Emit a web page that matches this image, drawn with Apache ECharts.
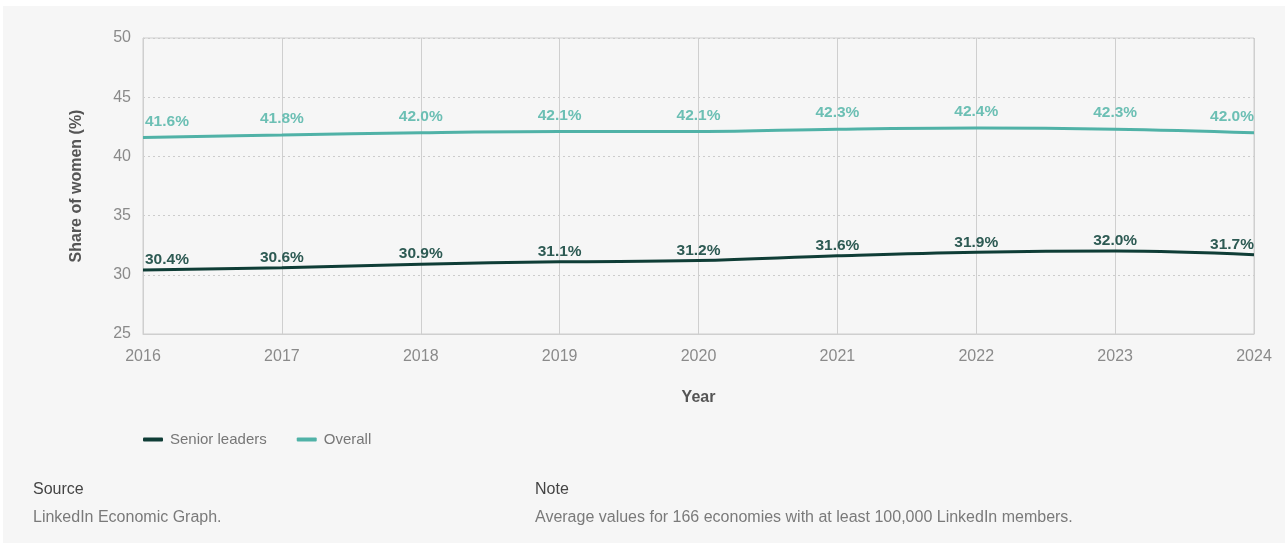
<!DOCTYPE html>
<html>
<head>
<meta charset="utf-8">
<script src="https://cdn.jsdelivr.net/npm/echarts@6/dist/echarts.min.js"></script>
<style>
  html, body { margin: 0; padding: 0; background: #ffffff; }
  #wrap { position: absolute; left: 3px; top: 6px; right: 3px; bottom: 0; background: #f6f6f6; }
  #chart { position: absolute; left: -3px; top: -6px; width: 1288px; height: 543px; }
</style>
</head>
<body>
<div id="wrap"><div id="chart"></div></div>
<script>
// Share of women, by year
const years = ['2016', '2017', '2018', '2019', '2020', '2021', '2022', '2023', '2024'];
const seniorLeaders = [30.4, 30.6, 30.9, 31.1, 31.2, 31.6, 31.9, 32.0, 31.7];
const overall = [41.6, 41.8, 42.0, 42.1, 42.1, 42.3, 42.4, 42.3, 42.0];
const yTicks = { min: 25, max: 50, interval: 5 };

const FONT = '"Liberation Sans", Arial, Helvetica, sans-serif';
const SENIOR_COLOR = '#0f3d36';
const SENIOR_LABEL = '#2d5a53';
const OVERALL_COLOR = '#50b2a7';
const OVERALL_LABEL = '#6cbfb4';

// first label hugs the left edge, last the right edge, others centred
function pointsWithLabels(values) {
  return values.map((v, i) => ({
    value: v,
    label: i === 0
      ? { align: 'left', offset: [2, 0] }
      : { align: i === values.length - 1 ? 'right' : 'center' }
  }));
}

function lineSeries(name, values, lineColor, labelColor, distance) {
  return {
    name,
    type: 'line',
    smooth: 0.4,
    symbol: 'circle',
    symbolSize: 2,
    showSymbol: true,
    data: pointsWithLabels(values),
    lineStyle: { color: lineColor, width: 3 },
    // points are invisible; only their value labels are drawn
    itemStyle: { color: 'rgba(0,0,0,0)', borderWidth: 0 },
    label: {
      show: true, position: 'top', distance,
      color: labelColor, fontSize: 15.5, fontWeight: 'bold', fontFamily: FONT,
      formatter: p => p.value.toFixed(1) + '%'
    },
    emphasis: { disabled: true }
  };
}

const chart = echarts.init(document.getElementById('chart'), null, { renderer: 'canvas' });

chart.setOption({
  backgroundColor: 'transparent',
  animation: false,
  textStyle: { fontFamily: FONT },
  grid: {
    left: 143, right: 34, top: 38, bottom: 209,
    show: true, borderColor: '#cfcfcf', borderWidth: 1, backgroundColor: 'transparent'
  },
  legend: {
    left: 138, top: 427,
    itemWidth: 20, itemHeight: 4, itemGap: 30,
    icon: 'roundRect',
    textStyle: { color: '#777', fontSize: 15, fontFamily: FONT, padding: [0, 0, 0, 2] },
    data: [
      { name: 'Senior leaders', itemStyle: { color: SENIOR_COLOR } },
      { name: 'Overall', itemStyle: { color: OVERALL_COLOR } }
    ]
  },
  xAxis: {
    type: 'category',
    data: years,
    boundaryGap: false,
    name: 'Year',
    nameLocation: 'middle',
    nameGap: 56,
    nameTextStyle: { color: '#555', fontSize: 16, fontWeight: 'bold', fontFamily: FONT },
    axisLine: { show: true, lineStyle: { color: '#cfcfcf', width: 1 } },
    axisTick: { show: false },
    axisLabel: { color: '#8a8a8a', fontSize: 16, margin: 15, fontFamily: FONT },
    splitLine: { show: true, lineStyle: { color: '#cfcfcf', width: 1 } }
  },
  yAxis: {
    type: 'value',
    min: yTicks.min, max: yTicks.max, interval: yTicks.interval,
    name: 'Share of women (%)',
    nameLocation: 'middle',
    nameGap: 58,
    nameRotate: 90,
    nameTextStyle: { color: '#555', fontSize: 16, fontWeight: 'bold', fontFamily: FONT },
    axisLine: { show: true, lineStyle: { color: '#cfcfcf', width: 1 } },
    axisTick: { show: false },
    axisLabel: { color: '#8a8a8a', fontSize: 16, margin: 12, fontFamily: FONT, padding: [0, 0, 7, 0] },
    splitLine: { show: true, lineStyle: { color: '#cccccc', width: 1, type: [2, 3] } }
  },
  series: [
    lineSeries('Senior leaders', seniorLeaders, SENIOR_COLOR, SENIOR_LABEL, 1),
    lineSeries('Overall', overall, OVERALL_COLOR, OVERALL_LABEL, 7)
  ],
  graphic: [
    { type: 'text', left: 33, top: 482, style: { text: 'Source', fill: '#444', fontSize: 16, fontFamily: FONT } },
    { type: 'text', left: 33, top: 510, style: { text: 'LinkedIn Economic Graph.', fill: '#7a7a7a', fontSize: 16, fontFamily: FONT } },
    { type: 'text', left: 535, top: 482, style: { text: 'Note', fill: '#444', fontSize: 16, fontFamily: FONT } },
    { type: 'text', left: 535, top: 510, style: { text: 'Average values for 166 economies with at least 100,000 LinkedIn members.', fill: '#7a7a7a', fontSize: 16, fontFamily: FONT } }
  ]
});
</script>
</body>
</html>
